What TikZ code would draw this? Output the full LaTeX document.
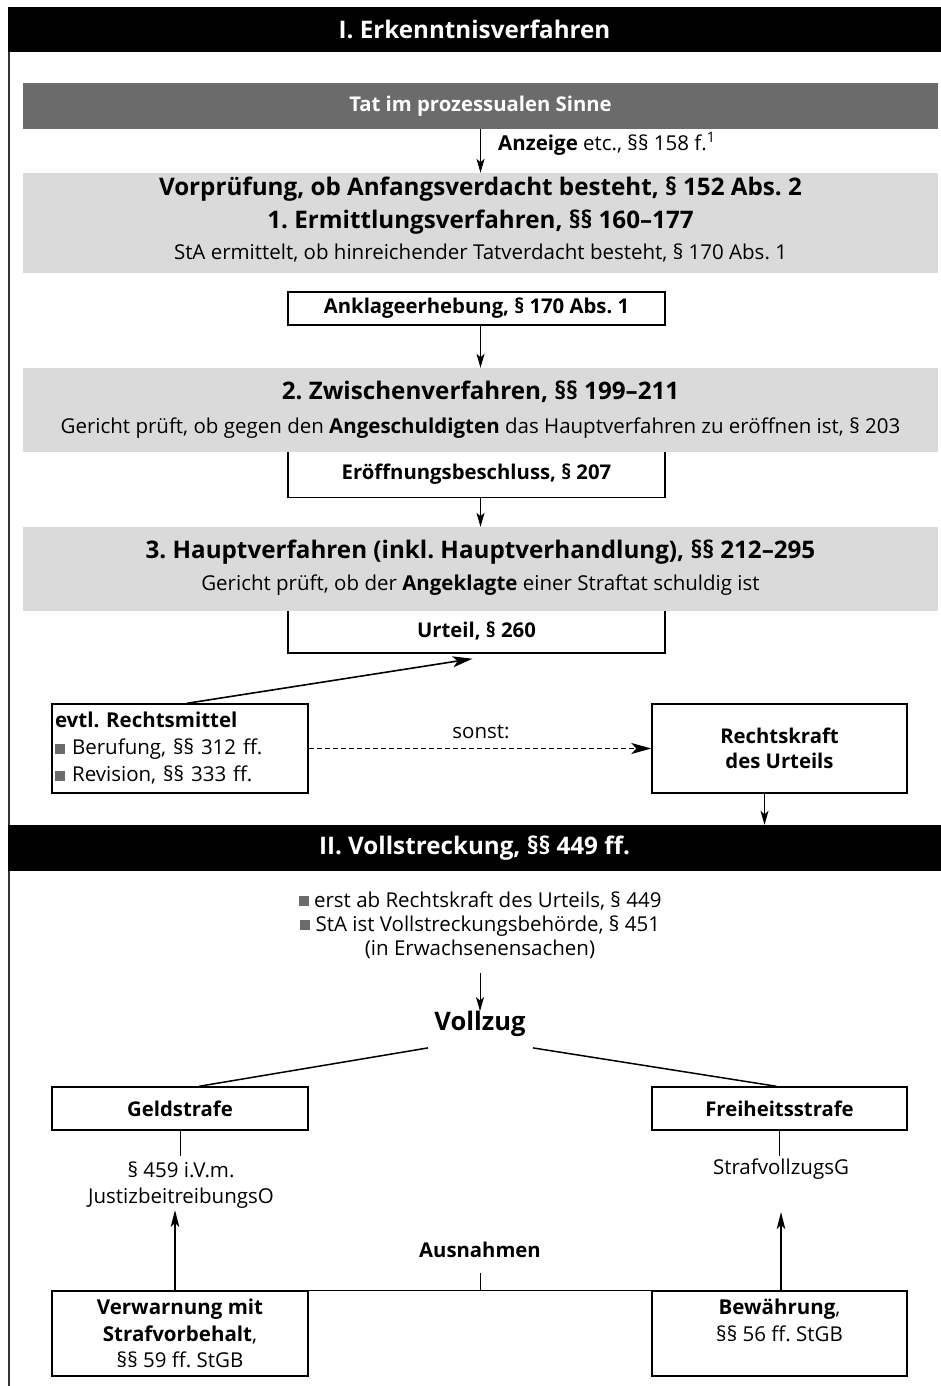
\documentclass[tikz,border=0pt]{standalone}
\usepackage{fontspec}
\setmainfont{Open Sans}
\usetikzlibrary{arrows.meta,shadows,calc}
\definecolor{dgray}{HTML}{6B6B6B}
\definecolor{lgray}{HTML}{DADADA}
\newcommand{\sqb}{\textcolor{dgray}{\rule[0.05em]{0.5em}{0.5em}}}
\newcommand{\fsreg}{\fontsize{20.5}{24}\selectfont}
\newcommand{\fsbig}{\fontsize{24.2}{28}\selectfont\bfseries}
\newcommand{\fsbox}{\fontsize{20.3}{24}\selectfont\bfseries}
\begin{document}
\frenchspacing
\begin{tikzpicture}[x=1pt,y=-1pt,
  hdr/.style={fill=black,text=white,font=\fsbig,inner sep=0pt,minimum width=933pt,minimum height=45pt},
  gbox/.style={fill=lgray,inner sep=0pt,minimum width=915pt},
  txt/.style={inner sep=0pt,text height=0.72em,text depth=0.22em},
  wbox/.style={draw=black,line width=1.4pt,fill=white,inner sep=0pt,
     drop shadow={shadow xshift=0.9pt,shadow yshift=-0.9pt,fill=black,opacity=0.8}},
  arr/.style={-{Stealth[length=14pt,width=8pt,inset=3.5pt]},line width=1pt},
  arrb/.style={-{Stealth[length=20pt,width=11pt,inset=5pt]},line width=1.6pt},
  arru/.style={-{Stealth[length=17pt,width=8.5pt,inset=4pt]},line width=1.6pt}
]
\useasboundingbox (0,0) rectangle (941,1386);
% left frame line
\draw[line width=1.3pt,black!80] (9,40) -- (9,1386);

% ---------- I. Erkenntnisverfahren ----------
\node[hdr] (h1) at (474.5,29.5) {I. Erkenntnisverfahren};

\node[gbox,fill=dgray,minimum height=46pt,text=white,font=\fsbox] (tat) at (480.5,106) {Tat im prozessualen Sinne};

\node[gbox,minimum height=100pt] (vor) at (480.5,223) {};
\node[txt,font=\fsbig] (vor1) at (480.5,193) {Vorprüfung, ob Anfangsverdacht besteht, § 152 Abs. 2};
\node[txt,font=\fsbig] (vor2) at (480.5,226) {1. Ermittlungsverfahren, §§ 160–177};
\node[txt,font=\fsreg] (vor3) at (480.5,257) {StA ermittelt, ob hinreichender Tatverdacht besteht, § 170 Abs. 1};

\draw[arr] (tat.south) -- (vor.north);
\node[txt,font=\fsreg,anchor=west] (anz) at (498,148) {\textbf{Anzeige} etc., §§ 158 f.\textsuperscript{1}};

\node[wbox,minimum width=377pt,minimum height=33pt,font=\fsbox] (ankl) at (476.5,308.5) {Anklageerhebung, § 170 Abs. 1};

% Eroeffnungsbeschluss (top hidden under grey box)
\node[wbox,minimum width=377pt,minimum height=47pt,font=\fsbox] (eroe) at (476.5,474) {Eröffnungsbeschluss, § 207};

\node[gbox,minimum height=84pt] (zw) at (480.5,410) {};
\node[txt,font=\fsbig] (zw1) at (480.5,397) {2. Zwischenverfahren, §§ 199–211};
\node[txt,font=\fsreg] (zw2) at (480.5,431) {Gericht prüft, ob gegen den \textbf{Angeschuldigten} das Hauptverfahren zu eröffnen ist, § 203};

\draw[arr] (ankl.south -| zw.north) -- (zw.north);

\node[wbox,minimum width=377pt,minimum height=44pt,font=\fsbox] (urt) at (476.5,631) {Urteil, § 260};

\node[gbox,minimum height=84pt] (hv) at (480.5,569) {};
\node[txt,font=\fsbig] (hv1) at (480.5,556) {3. Hauptverfahren (inkl. Hauptverhandlung), §§ 212–295};
\node[txt,font=\fsreg] (hv2) at (480.5,588) {Gericht prüft, ob der \textbf{Angeklagte} einer Straftat schuldig ist};

\draw[arr] (eroe.south -| hv.north) -- (hv.north);

\node[wbox,minimum width=256pt,minimum height=89pt,text width=250pt,align=left,font=\fontsize{20.5}{27}\selectfont] (rm) at (180,748.5)
  {\textbf{evtl. Rechtsmittel}\\\sqb\ Berufung, §§ 312 ff.\\\sqb\ Revision, §§ 333 ff.};
\node[wbox,minimum width=255pt,minimum height=89pt,align=center,font=\fontsize{20.3}{25}\selectfont\bfseries] (rk) at (779.5,748.5)
  {Rechtskraft\\des Urteils};

\coordinate (ut) at ($(urt.south)+(-4,5)$);
\draw[arrb] ($(rm.north)+(7,0)$) -- (ut);
\draw[arrb,dashed,dash pattern=on 5pt off 3pt] (rm.east) -- (rk.west);
\node[txt,font=\fsreg] (sonst) at (481,736) {sonst:};

% ---------- II. Vollstreckung ----------
\node[hdr,minimum height=46pt] (h2) at (474.5,848) {II. Vollstreckung, §§ 449 ff.};
\coordinate (rkb) at ($(rk.south)+(-15,0)$);
\draw[arr] (rkb) -- (rkb |- h2.north);

\node[inner sep=0pt,align=center,font=\fontsize{20.5}{24}\selectfont] (bul) at (480,925)
  {\sqb\ erst ab Rechtskraft des Urteils, § 449\\\sqb\ StA ist Vollstreckungsbehörde, § 451\\(in Erwachsenensachen)};

\node[txt,font=\fontsize{25.5}{30}\selectfont\bfseries] (vz) at (480,1028) {Vollzug};
\coordinate (vza) at (480,973);
\draw[arr] (vza) -- ($(vz.north)+(0,-12)$);

\node[wbox,minimum width=256pt,minimum height=43pt,font=\fsbox] (geld) at (180,1108.5) {Geldstrafe};
\node[wbox,minimum width=255pt,minimum height=43pt,font=\fsbox] (frei) at (779.5,1108.5) {Freiheitsstrafe};

\draw[line width=1.5pt] ($(vz.south)+(-52,15)$) -- ($(geld.north)+(19,0)$);
\draw[line width=1.5pt] ($(vz.south)+(53,15)$) -- ($(frei.north)+(-3,0)$);

\node[inner sep=0pt,align=center,font=\fontsize{20.5}{26}\selectfont] (jb) at (181,1185)
  {§ 459 i.V.m.\\JustizbeitreibungsO};
\node[txt,font=\fsreg] (sv) at (781,1172) {StrafvollzugsG};

\draw[line width=1pt] (geld.south) -- ++(0,25);
\draw[line width=1pt] (frei.south) -- ++(0,25);

\node[wbox,minimum width=256pt,minimum height=85pt,align=center,font=\fontsize{20.5}{26.5}\selectfont] (verw) at (180,1333.5)
  {\textbf{Verwarnung mit}\\\textbf{Strafvorbehalt},\\§§ 59 ff. StGB};
\node[wbox,minimum width=255pt,minimum height=85pt,align=center,font=\fontsize{20.5}{26.5}\selectfont] (bew) at (779.5,1333.5)
  {\textbf{Bewährung},\\§§ 56 ff. StGB\\\mbox{}};

\node[txt,font=\fsbox] (aus) at (480,1255) {Ausnahmen};
\draw[line width=1pt] ($(aus.south)+(0,13)$) -- (aus.south |- verw.north);
\draw[line width=1.4pt] (verw.north east) -- (bew.north west);

\coordinate (va) at ($(verw.north)+(-5,0)$);
\coordinate (ba) at ($(bew.north)+(1.5,0)$);
\draw[arru] (va) -- (va |- 0,1210);
\draw[arru] (ba) -- (ba |- 0,1212);
\end{tikzpicture}
\end{document}
